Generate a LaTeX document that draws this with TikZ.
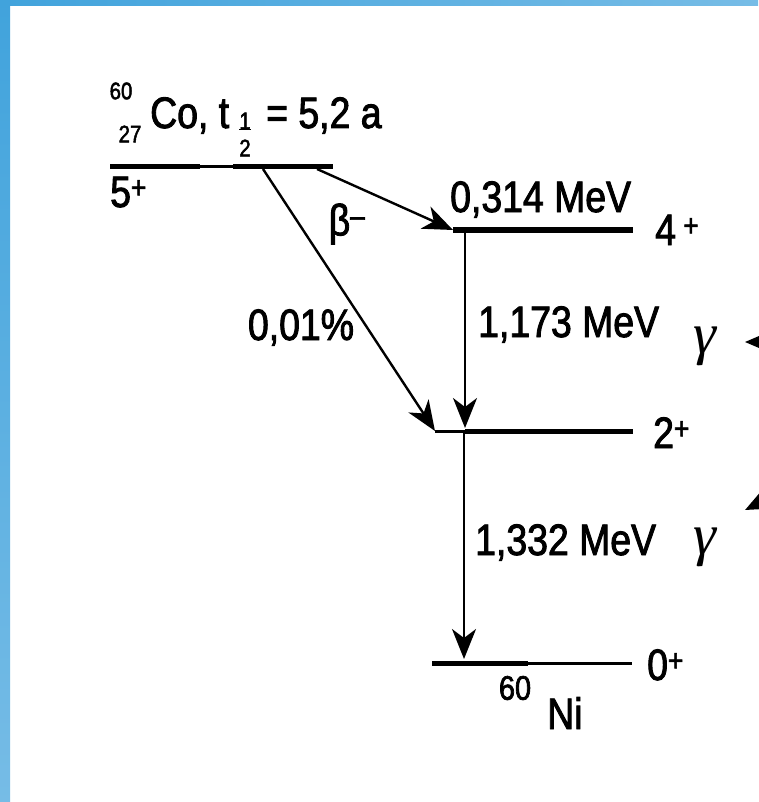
\documentclass[tikz,border=0pt]{standalone}
\usepackage{fontspec}
\setmainfont[FakeStretch=0.85,FakeBold=2]{Liberation Sans}
\newfontfamily\greekfont{Liberation Serif}
\usetikzlibrary{arrows.meta}
\definecolor{slideblue}{RGB}{65,163,220}
\definecolor{slidelight}{RGB}{118,188,230}
\tikzset{
    level/.style={draw,line width=5pt},
    thinlevel/.style={draw,line width=3pt},
    decay/.style={draw,line width=2.4pt,-{Stealth[length=30pt,width=24pt,inset=9pt]}},
    pointer/.style={draw,line width=2pt,-{Triangle[length=24pt,width=20pt]}},
    txt/.style={inner sep=0pt,font=\fontsize{44}{48}\selectfont},
    small/.style={inner sep=0pt,font=\fontsize{24}{26}\selectfont},
    gam/.style={inner sep=0pt,font=\fontsize{58}{60}\selectfont\greekfont\itshape},
}

\begin{document}
\begin{tikzpicture}[x=1pt,y=-1pt]
    \useasboundingbox (0,0) rectangle (758,802);
    \fill[white] (0,0) rectangle (758,802);
    \shade[left color=slideblue,right color=slidelight] (0,0) rectangle (758,6);
    \shade[top color=slideblue,bottom color=slidelight] (0,0) rectangle (10,802);

    % levels
    \coordinate (l5a) at (110,167); \coordinate (l5m) at (200,167);
    \coordinate (l5n) at (233,167); \coordinate (l5b) at (333,167);
    \coordinate (l4a) at (453,230); \coordinate (l4b) at (633,230);
    \coordinate (l2a) at (435,431); \coordinate (l2m) at (465,431);
    \coordinate (l2b) at (633,431);
    \coordinate (l0a) at (432,663); \coordinate (l0m) at (528,663);
    \coordinate (l0b) at (632,663);
    \draw[level] (l5a) -- (l5m);
    \draw[thinlevel] (l5m) -- (l5n);
    \draw[level] (l5n) -- (l5b);
    \draw[level] (l4a) -- (l4b);
    \draw[thinlevel] (l2a) -- (l2m);
    \draw[level] (l2m) -- (l2b);
    \draw[level] (l0a) -- (l0m);
    \draw[thinlevel] (l0m) -- (l0b);

    % decays
    \coordinate (beta) at (317,169);
    \coordinate (weak) at (263,169);
    \coordinate (g1top) at (465,230);
    \coordinate (g1bot) at (465,428);
    \coordinate (g2top) at (464,431);
    \coordinate (g2bot) at (464,659);
    \draw[decay] (beta) -- (l4a);
    \draw[decay] (weak) -- (l2a);
    \draw[decay] (g1top) -- (g1bot);
    \draw[decay] (g2top) -- (g2bot);

    % title
    \node[small] (sup60) at (121,91) {60};
    \node[small] (sub27) at (130,134) {27};
    \node[txt,anchor=base west] (co) at (150,128) {Co, t};
    \node[small] (half1) at (245,121) {1};
    \node[small] (half2) at (245,148) {2};
    \draw[line width=1.5pt] (half1.south west) -- (half1.south east);
    \node[txt,anchor=base west] (life) at (266,128) {= 5,2 a};

    % labels
    \node[txt,anchor=base west] (s5) at (110,207) {5\textsuperscript{+}};
    \node[txt,anchor=base west] (s4) at (655,245) {4\,\textsuperscript{+}};
    \node[txt,anchor=base west] (s2) at (653,448) {2\textsuperscript{+}};
    \node[txt,anchor=base west] (s0) at (647,680) {0\textsuperscript{+}};
    \node[txt] (bm) at (347,224) {β\textsuperscript{--}};
    \node[txt,anchor=base] (pc) at (301,340) {0,01\%};
    \node[txt,anchor=base west] (e4) at (450,212) {0,314 MeV};
    \node[txt,anchor=base west] (e1) at (478,337) {1,173 MeV};
    \node[txt,anchor=base west] (e2) at (475,555) {1,332 MeV};
    \node[inner sep=0pt,font=\fontsize{34}{36}\selectfont] (ni60) at (515,688) {60};
    \node[txt,anchor=base west] (ni) at (547,729) {Ni};

    % gamma pointers
    \node[gam] (gup) at (705,346) {γ};
    \node[gam] (gdown) at (705,547) {γ};
    \coordinate (pup) at (830,342);
    \coordinate (pupend) at (745,342);
    \coordinate (pdown) at (830,468);
    \coordinate (pdownend) at (745,510);
    \draw[pointer] (pup) -- (pupend);
    \draw[pointer] (pdown) -- (pdownend);
\end{tikzpicture}
\end{document}
